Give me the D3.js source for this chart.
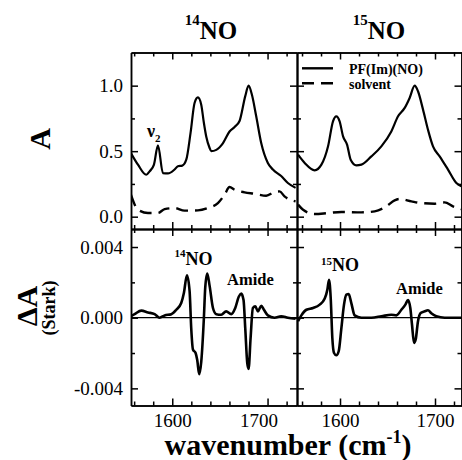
<!DOCTYPE html>
<html>
<head>
<meta charset="utf-8">
<script src="https://cdn.jsdelivr.net/npm/d3@7"></script>
<style>
  body { margin: 0; background: #fff; }
  svg { display: block; font-family: "Liberation Serif", "Times New Roman", serif; }
  .axis path, .axis line { stroke: #000; stroke-width: 1.5px; }
  .axis text { font-size: 19px; fill: #000; font-family: "Liberation Serif", "Times New Roman", serif; }
  .bold { font-weight: bold; }
</style>
</head>
<body>
<svg id="chart" width="462" height="460"></svg>
<script>
// [wavenumber, value] pairs
const abs14NO = [
  [1556.6, 0.486], [1564.0, 0.397], [1572.7, 0.32], [1576.2, 0.346], [1580.8, 0.397],
  [1585.0, 0.545], [1590.2, 0.333], [1595.5, 0.33], [1602.4, 0.36], [1605.9, 0.385],
  [1610.5, 0.39], [1614.7, 0.435], [1619.2, 0.64], [1623.4, 0.868], [1626.9, 0.91],
  [1630.4, 0.855], [1633.2, 0.715], [1635.7, 0.61], [1639.2, 0.524], [1640.9, 0.5],
  [1646.2, 0.51], [1653.1, 0.56], [1660.1, 0.65], [1665.4, 0.685], [1670.6, 0.73],
  [1676.6, 0.92], [1680.1, 1.0], [1683.6, 0.93], [1688.1, 0.766], [1693.4, 0.56],
  [1700.3, 0.41], [1705.6, 0.36], [1714.3, 0.31], [1721.3, 0.257], [1729.4, 0.22]
];
const solvent14 = [
  [1556.6, 0.168], [1564.0, 0.053], [1574.5, 0.028], [1585.0, 0.028], [1592.0, 0.058],
  [1602.4, 0.066], [1612.9, 0.046], [1626.9, 0.048], [1637.4, 0.066], [1647.9, 0.104],
  [1654.9, 0.168], [1660.1, 0.226], [1665.4, 0.206], [1675.9, 0.186], [1686.4, 0.175],
  [1698.6, 0.16], [1707.3, 0.188], [1712.6, 0.193], [1717.8, 0.155], [1729.4, 0.117]
];
const abs15NO = [
  [1555.8, 0.473], [1562.8, 0.41], [1573.3, 0.354], [1580.4, 0.397], [1587.4, 0.537],
  [1592.6, 0.728], [1596.1, 0.766], [1599.6, 0.728], [1603.2, 0.613], [1607.4, 0.55],
  [1611.2, 0.435], [1617.2, 0.392], [1622.5, 0.397], [1633.0, 0.46], [1643.5, 0.537],
  [1654.0, 0.651], [1661.1, 0.766], [1668.1, 0.83], [1673.3, 0.906], [1678.6, 1.0],
  [1682.1, 0.957], [1687.4, 0.817], [1692.6, 0.664], [1697.9, 0.537], [1704.9, 0.46],
  [1713.7, 0.359], [1722.5, 0.257], [1727.7, 0.232]
];
const solvent15 = [
  [1555.8, 0.092], [1561.1, 0.053], [1573.3, 0.02], [1587.4, 0.028], [1601.4, 0.036],
  [1622.5, 0.033], [1636.5, 0.041], [1648.8, 0.079], [1657.5, 0.125], [1662.8, 0.135],
  [1675.1, 0.117], [1685.6, 0.104], [1699.6, 0.099], [1710.2, 0.109], [1718.9, 0.079],
  [1727.7, 0.058]
];
const stark14NO = [
  [1556.6, 0.00008], [1560.5, 0.0002], [1567.5, 0.0004], [1574.5, 0.0003], [1581.5, 0.0002],
  [1586.7, 0.0], [1592.0, 0.00013], [1599.0, 0.0002], [1604.2, 0.00045], [1609.4, 0.00083],
  [1612.2, 0.0014], [1615.4, 0.0024], [1618.2, 0.0015], [1619.9, -0.0006], [1621.7, -0.0018],
  [1624.5, -0.002], [1626.2, -0.0024], [1628.3, -0.0032], [1630.4, -0.0025], [1633.2, 0.0],
  [1634.6, 0.0017], [1636.7, 0.0025], [1639.2, 0.0018], [1642.7, 0.00055], [1646.2, 0.0002],
  [1651.4, 0.00017], [1656.6, 0.00036], [1661.9, 0.0002], [1666.1, 0.00055], [1669.9, 0.0012],
  [1672.4, 0.00136], [1674.8, 0.001], [1676.6, -0.0006], [1678.7, -0.00257], [1680.1, -0.0029],
  [1682.2, -0.00115], [1684.6, 0.00055], [1687.1, 0.00064], [1689.9, 0.00036], [1693.4, 0.00068],
  [1696.2, 0.00045], [1700.3, 0.00013], [1707.3, 0.0], [1714.3, 0.00008], [1721.3, 0.0],
  [1729.4, -0.00006]
];
const stark15NO = [
  [1555.8, -0.0002], [1559.3, 0.00013], [1564.6, 0.00045], [1571.6, 0.00055], [1578.6, 0.00074],
  [1583.9, 0.00108], [1586.7, 0.0016], [1588.4, 0.00215], [1590.2, 0.0011], [1591.9, -0.00115],
  [1593.7, -0.002], [1596.1, -0.00213], [1598.6, -0.0019], [1601.4, -0.0006], [1604.2, 0.00074],
  [1606.7, 0.0013], [1609.1, 0.00134], [1611.9, 0.00083], [1615.4, 0.00013], [1622.5, 0.0],
  [1633.0, 0.0], [1643.5, 0.00008], [1654.0, 0.00017], [1659.3, 0.00013], [1664.6, 0.00045],
  [1668.8, 0.00074], [1671.6, 0.001], [1674.0, 0.00055], [1675.8, -0.0004], [1677.9, -0.00143],
  [1679.6, -0.00125], [1682.1, -0.0002], [1684.9, 0.00026], [1689.1, 0.00036], [1692.6, 0.00042],
  [1696.1, 0.00025], [1701.4, 0.00008], [1710.2, 0.0], [1718.9, 0.0], [1727.7, 0.0]
];

const wnMajor = [1600, 1700];
const wnLabels = ["1600", "1700"];
const wnMinor = [1560, 1580, 1620, 1640, 1660, 1680, 1720];
const absMajor = [0, 0.5, 1.0];
const absLabels = ["0.0", "0.5", "1.0"];
const absMinor = [0.25, 0.75];
const starkMajor = [-0.004, 0, 0.004];
const starkLabels = ["-0.004", "0.000", "0.004"];
const starkMinor = [-0.002, 0.002];
const legendNames = ["PF(Im)(NO)", "solvent"];

const svg = d3.select("#chart");

const cols = [
  { x0: 131, x1: 297, domain: [1556.7, 1730.9], abs: abs14NO, solv: solvent14, stark: stark14NO },
  { x0: 297, x1: 461.5, domain: [1554.7, 1727.9], abs: abs15NO, solv: solvent15, stark: stark15NO }
];
const rows = [
  { y0: 52.5, y1: 229, domain: [-0.094, 1.253], major: absMajor, minor: absMinor, labels: absLabels },
  { y0: 229, y1: 405.5, domain: [-0.00497, 0.00502], major: starkMajor, minor: starkMinor, labels: starkLabels }
];

function addAxis(axisFn, scale, values, size, translate, labels, pad) {
  const a = axisFn(scale)
    .tickValues(values)
    .tickSize(-size)
    .tickSizeOuter(0)
    .tickPadding(pad || 8)
    .tickFormat(labels ? (d, i) => labels[i] : "");
  return svg.append("g").attr("class", "axis").attr("transform", translate).call(a)
    .attr("font-family", null).attr("font-size", null);
}

cols.forEach((c, ci) => {
  const x = d3.scaleLinear().domain(c.domain).range([c.x0, c.x1]);
  rows.forEach((r, ri) => {
    const y = d3.scaleLinear().domain(r.domain).range([r.y1, r.y0]);
    const id = `clip-${ci}-${ri}`;
    svg.append("clipPath").attr("id", id).append("rect")
      .attr("x", c.x0).attr("y", r.y0)
      .attr("width", c.x1 - c.x0).attr("height", r.y1 - r.y0);
    const g = svg.append("g").attr("clip-path", `url(#${id})`);
    const line = d3.line()
      .x((d) => x(d[0]))
      .y((d) => y(d[1]))
      .curve(d3.curveMonotoneX);

    if (ri === 0) {
      g.append("path").datum(c.solv).attr("d", line)
        .style("fill", "none").style("stroke", "#000")
        .style("stroke-width", "2.4px").style("stroke-dasharray", "12,7");
      g.append("path").datum(c.abs).attr("d", line)
        .style("fill", "none").style("stroke", "#000").style("stroke-width", "2.2px");
    } else {
      g.append("line")
        .attr("x1", c.x0).attr("x2", c.x1)
        .attr("y1", y(0)).attr("y2", y(0))
        .style("stroke", "#000").style("stroke-width", "1.3px");
      g.append("path").datum(c.stark).attr("d", line)
        .style("fill", "none").style("stroke", "#000").style("stroke-width", "2.6px")
        .style("stroke-linejoin", "round");
    }

    // ticks point inward on all four sides
    addAxis(d3.axisBottom, x, wnMinor, 4, `translate(0,${r.y1})`);
    const xb = addAxis(d3.axisBottom, x, wnMajor, 7, `translate(0,${r.y1})`,
      ri === 1 ? wnLabels : null, 8);
    if (ri === 1 && ci === 0) {
      xb.selectAll(".tick text").filter((d) => d === 1700).attr("dx", -9);
    }
    addAxis(d3.axisTop, x, wnMinor, 4, `translate(0,${r.y0})`);
    addAxis(d3.axisTop, x, wnMajor, 7, `translate(0,${r.y0})`);
    addAxis(d3.axisLeft, y, r.minor, 4, `translate(${c.x0},0)`);
    addAxis(d3.axisLeft, y, r.major, 7, `translate(${c.x0},0)`, ci === 0 ? r.labels : null, 8);
    addAxis(d3.axisRight, y, r.minor, 4, `translate(${c.x1},0)`);
    addAxis(d3.axisRight, y, r.major, 7, `translate(${c.x1},0)`);
  });
});

// isotope titles
function isotope(x, y, mass, big, small, shift, anchor) {
  const t = svg.append("text").attr("class", "bold")
    .attr("x", x).attr("y", y)
    .attr("text-anchor", anchor)
    .style("font-size", big + "px");
  t.append("tspan").text(mass).style("font-size", small + "px").attr("dy", -shift);
  t.append("tspan").text("NO").attr("dy", shift);
}
isotope(211, 39, "14", 25, 15, 14, "middle");
isotope(379, 39, "15", 25, 15, 14, "middle");
isotope(174.5, 264.7, "14", 18, 11, 8, "start");
isotope(321, 271.3, "15", 18, 11, 6, "start");

svg.append("text").attr("class", "bold").attr("x", 227).attr("y", 285)
  .style("font-size", "16.5px").text("Amide");
svg.append("text").attr("class", "bold").attr("x", 396).attr("y", 294)
  .style("font-size", "16.5px").text("Amide");

const nu = svg.append("text").attr("class", "bold").attr("x", 147).attr("y", 137)
  .style("font-size", "18px");
nu.append("tspan").text("ν");
nu.append("tspan").text("2").style("font-size", "11px").attr("dy", 5);

// legend
const legend = svg.selectAll(".legend")
  .data(legendNames)
  .enter()
  .append("g")
  .attr("class", "legend")
  .attr("transform", (d, i) => `translate(0,${68.3 + i * 15})`);
legend.append("line")
  .attr("x1", 302).attr("x2", 333)
  .style("stroke", "#000").style("stroke-width", "2.4px")
  .style("stroke-dasharray", (d, i) => (i === 1 ? "12,7" : null));
legend.append("text").attr("class", "bold")
  .attr("x", 349).attr("y", 5.5)
  .style("font-size", "14px")
  .text((d) => d);

// axis titles
svg.append("text").attr("class", "bold")
  .attr("transform", "translate(50,139) rotate(-90)")
  .attr("text-anchor", "middle")
  .style("font-size", "30px").text("A");
svg.append("text").attr("class", "bold")
  .attr("transform", "translate(37,306) rotate(-90)")
  .attr("text-anchor", "middle")
  .style("font-size", "30px").text("ΔA");
svg.append("text").attr("class", "bold")
  .attr("transform", "translate(55,308) rotate(-90)")
  .attr("text-anchor", "middle")
  .style("font-size", "18px").text("(Stark)");

const xl = svg.append("text").attr("class", "bold")
  .attr("x", 288).attr("y", 455)
  .attr("text-anchor", "middle")
  .style("font-size", "30px");
xl.append("tspan").text("wavenumber (cm");
xl.append("tspan").text("-1").style("font-size", "18px").attr("dy", -12);
xl.append("tspan").text(")").attr("dy", 12);
</script>
</body>
</html>
